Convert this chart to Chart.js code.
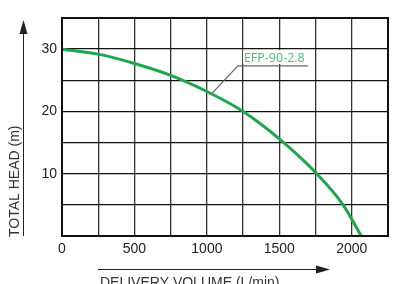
<!DOCTYPE html>
<html><head><meta charset="utf-8">
<script src="https://cdn.jsdelivr.net/npm/chart.js@4"></script>
<style>html,body{margin:0;padding:0;background:#fff}#wrap{width:400px;height:284px}</style>
</head><body><div id="wrap"><canvas id="c" width="400" height="284"></canvas></div>
<script>
const flow = [0, 250, 500, 750, 1000, 1250, 1500, 1750, 1940, 2065];
const head = [30, 29.2, 27.7, 25.8, 23.2, 20, 15.6, 10.2, 5, 0];
const seriesName = 'EFP-90-2.8';
const xTickLabels = [0, 500, 1000, 1500, 2000];
const yTickLabels = [10, 20, 30];
const xTitle = 'DELIVERY VOLUME (L/min)';
const yTitle = 'TOTAL HEAD (m)';

const pts = flow.map((f, i) => ({x: f, y: head[i]}));

const deco = {
  id: 'deco',
  afterDraw(chart) {
    const ctx = chart.ctx, a = chart.chartArea, xs = chart.scales.x, ys = chart.scales.y;
    ctx.save();
    // border
    ctx.strokeStyle = '#111'; ctx.lineWidth = 2;
    ctx.strokeRect(a.left, a.top, a.right - a.left, a.bottom - a.top);
    // series label with leader
    const ax = xs.getPixelForValue(1035), ay = ys.getPixelForValue(22.9);
    const bx = xs.getPixelForValue(1214), by = ys.getPixelForValue(27.3);
    const ex = xs.getPixelForValue(1697);
    ctx.strokeStyle = '#666'; ctx.lineWidth = 1.2;
    ctx.beginPath(); ctx.moveTo(ax, ay); ctx.lineTo(bx, by); ctx.lineTo(ex, by); ctx.stroke();
    ctx.font = '12.5px "Open Sans", sans-serif';
    const tw = ctx.measureText(seriesName).width;
    ctx.fillStyle = '#fff';
    ctx.fillRect(bx + 5, by - 16, tw + 3, 14);
    ctx.fillStyle = '#4cbb78'; ctx.textBaseline = 'alphabetic'; ctx.textAlign = 'left';
    ctx.fillText(seriesName, bx + 6, by - 4);
    // y title + arrow
    ctx.strokeStyle = '#222'; ctx.fillStyle = '#222'; ctx.lineWidth = 1;
    ctx.beginPath(); ctx.moveTo(23.5, 236); ctx.lineTo(23.5, 32); ctx.stroke();
    ctx.beginPath(); ctx.moveTo(23.5, 20); ctx.lineTo(19.5, 34); ctx.lineTo(27.5, 34); ctx.closePath(); ctx.fill();
    ctx.save();
    ctx.translate(19, 237); ctx.rotate(-Math.PI / 2);
    ctx.font = '14px "Liberation Sans", Arial, sans-serif'; ctx.fillStyle = '#333';
    ctx.textAlign = 'left'; ctx.textBaseline = 'alphabetic';
    ctx.fillText(yTitle, 0, 0);
    ctx.restore();
    // x title + arrow
    ctx.beginPath(); ctx.moveTo(98, 269.5); ctx.lineTo(318, 269.5); ctx.stroke();
    ctx.beginPath(); ctx.moveTo(330, 269.5); ctx.lineTo(316, 265.5); ctx.lineTo(316, 273.5); ctx.closePath(); ctx.fill();
    ctx.font = '14px "Liberation Sans", Arial, sans-serif'; ctx.fillStyle = '#333';
    ctx.textAlign = 'left'; ctx.textBaseline = 'alphabetic';
    ctx.fillText(xTitle, 100, 287);
    ctx.restore();
  }
};

new Chart(document.getElementById('c'), {
  type: 'scatter',
  data: { datasets: [{
    label: seriesName, data: pts, showLine: true, borderColor: '#1ea64d', borderWidth: 3,
    pointRadius: 0, tension: 0.4, cubicInterpolationMode: 'monotone', fill: false, clip: 2
  }]},
  options: {
    responsive: false, animation: false,
    layout: { padding: { left: 0, top: 18, right: 12, bottom: 0 } },
    plugins: { legend: { display: false }, tooltip: { enabled: false } },
    scales: {
      x: {
        type: 'linear', min: 0, max: 2250,
        afterFit(s) { s.height = 48; },
        grid: { color: '#333', lineWidth: 1.3, drawTicks: false },
        border: { display: false },
        ticks: { stepSize: 250, padding: 5, color: '#222', maxRotation: 0, autoSkip: false,
          font: { size: 14, family: '"Liberation Sans", Arial, sans-serif' },
          callback: v => xTickLabels.includes(v) ? String(v) : '' }
      },
      y: {
        min: 0, max: 35,
        afterFit(s) { s.width = 62; },
        grid: { color: '#111', lineWidth: 1.3, drawTicks: false },
        border: { display: false },
        ticks: { stepSize: 5, padding: 5, color: '#222', autoSkip: false,
          font: { size: 14, family: '"Liberation Sans", Arial, sans-serif' },
          callback: v => yTickLabels.includes(v) ? String(v) : '' }
      }
    }
  },
  plugins: [deco]
});
</script></body></html>
